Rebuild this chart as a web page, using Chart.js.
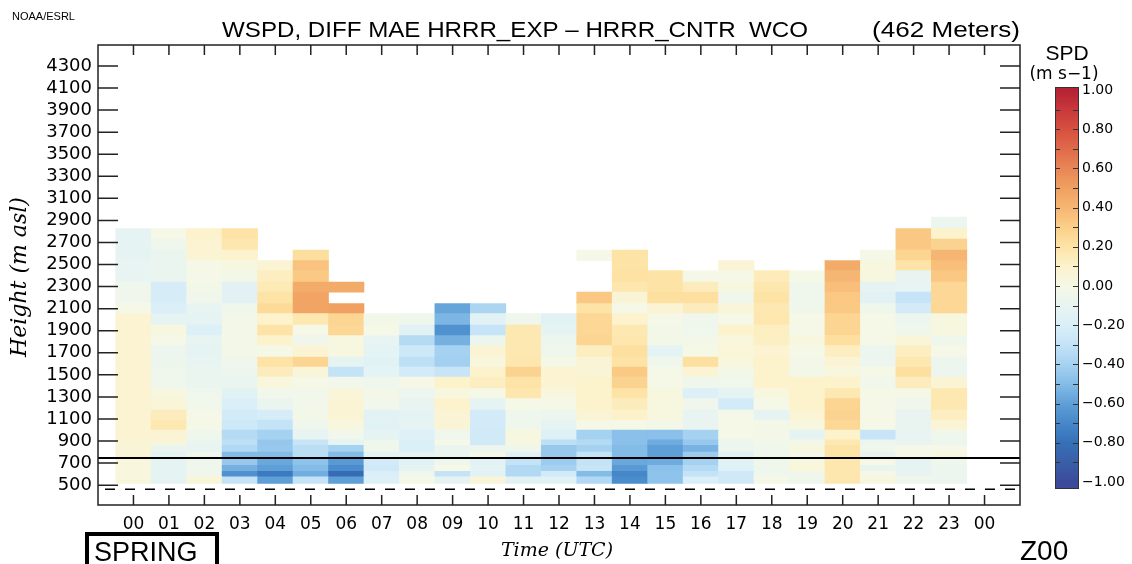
<!DOCTYPE html>
<html>
<head>
<meta charset="utf-8">
<title>WSPD DIFF MAE HRRR_EXP - HRRR_CNTR WCO</title>
<script src="https://cdn.jsdelivr.net/npm/chart.js@4.4.1/dist/chart.umd.min.js"></script>
<style>
  html, body { margin: 0; padding: 0; background: #fff; }
  #wrap { width: 1132px; height: 564px; }
</style>
</head>
<body>
<div id="wrap"><canvas id="chart" width="1132" height="564"></canvas></div>
<script>
// ---- data -------------------------------------------------------------------
// hours along the x axis (UTC)
const hours = ['00', '01', '02', '03', '04', '05', '06', '07', '08', '09', '10', '11',
               '12', '13', '14', '15', '16', '17', '18', '19', '20', '21', '22', '23'];

// height axis tick labels (m asl)
const yTicks = [500, 700, 900, 1100, 1300, 1500, 1700, 1900, 2100, 2300,
                2500, 2700, 2900, 3100, 3300, 3500, 3700, 3900, 4100, 4300];

// edges of the height bins (m asl), bottom to top
const levelEdges = [515, 575, 625, 680, 740, 800, 860, 910, 1000, 1090, 1180, 1285, 1375, 1480,
                    1570, 1660, 1765, 1855, 1950, 2055, 2145, 2250, 2340, 2445, 2535, 2630,
                    2730, 2825, 2930];

// MAE difference (m s-1) per hour, one value per height bin, bottom to top (null = no data)
const spdByHour = [
  /* 00 */ [0.04, 0.04, 0.04, 0.04, 0.06, 0.06, 0.06, 0.08, 0.08, 0.08, 0.08, 0.08, 0.08, 0.08, 0.08, 0.08, 0.08, 0.08, 0.08, 0.0, -0.04, -0.05, -0.1, -0.1, -0.12, -0.12, -0.12],
  /* 01 */ [-0.12, -0.12, -0.12, -0.12, -0.12, -0.08, 0.05, 0.07, 0.17, 0.14, 0.05, 0.03, -0.05, -0.05, -0.06, -0.07, 0.0, 0.03, -0.12, -0.2, -0.22, -0.22, -0.08, -0.08, -0.08, -0.05, 0.0],
  /* 02 */ [0.05, -0.04, -0.05, -0.05, -0.05, -0.1, -0.08, -0.05, 0.0, 0.0, -0.03, -0.05, -0.08, -0.08, -0.1, -0.12, -0.1, -0.18, -0.12, -0.1, -0.04, -0.02, 0.0, 0.0, 0.07, 0.08, 0.1],
  /* 03 */ [-0.3, -0.66, -0.54, -0.44, -0.5, -0.36, -0.32, -0.35, -0.26, -0.23, -0.2, -0.15, -0.08, -0.07, -0.05, -0.02, -0.02, -0.02, -0.02, -0.05, -0.14, -0.14, -0.02, 0.03, 0.09, 0.18, 0.2],
  /* 04 */ [-0.6, -0.76, -0.6, -0.57, -0.5, -0.44, -0.45, -0.4, -0.3, -0.22, -0.08, -0.03, 0.04, 0.14, 0.2, 0.0, 0.1, 0.2, 0.1, 0.25, 0.2, 0.16, 0.13, 0.07],
  /* 05 */ [-0.3, -0.55, -0.5, -0.47, -0.33, -0.33, -0.28, -0.1, -0.05, -0.02, -0.03, -0.03, 0.0, 0.05, 0.27, 0.07, -0.04, 0.0, 0.17, 0.48, 0.48, 0.45, 0.32, 0.35, 0.23],
  /* 06 */ [-0.6, -0.82, -0.68, -0.62, -0.5, -0.4, -0.12, -0.03, 0.04, 0.07, 0.07, 0.05, -0.03, -0.3, -0.12, 0.03, 0.03, 0.26, 0.27, 0.5, null, 0.45],
  /* 07 */ [-0.18, -0.2, -0.25, -0.23, -0.12, -0.05, -0.05, -0.12, -0.15, -0.14, -0.03, -0.02, -0.05, -0.13, -0.15, -0.13, -0.1, 0.0, -0.02],
  /* 08 */ [0.0, -0.05, -0.12, -0.14, -0.12, -0.2, -0.2, -0.17, -0.12, -0.13, -0.09, -0.07, 0.0, -0.23, -0.32, -0.26, -0.35, -0.14, -0.05],
  /* 09 */ [-0.12, -0.3, 0.0, -0.05, -0.08, -0.08, 0.0, -0.05, 0.06, 0.07, 0.1, 0.03, 0.1, -0.28, -0.41, -0.4, -0.54, -0.66, -0.52, -0.58],
  /* 10 */ [0.05, -0.14, -0.13, -0.14, 0.0, -0.07, -0.24, -0.24, -0.23, -0.23, -0.12, 0.0, 0.13, 0.1, 0.04, 0.07, -0.07, -0.29, -0.14, -0.38],
  /* 11 */ [-0.14, -0.36, -0.36, -0.3, -0.14, -0.05, 0.03, 0.03, -0.05, -0.05, 0.0, 0.18, 0.2, 0.28, 0.18, 0.17, 0.17, 0.17, -0.05],
  /* 12 */ [-0.15, -0.23, -0.4, -0.43, -0.44, -0.44, -0.32, -0.17, -0.12, -0.07, 0.0, 0.04, 0.08, 0.08, 0.0, -0.05, -0.07, -0.12, -0.14],
  /* 13 */ [-0.36, -0.5, -0.28, -0.3, -0.3, -0.4, -0.35, -0.4, 0.0, 0.07, 0.1, 0.1, 0.1, 0.06, 0.06, 0.13, 0.27, 0.26, 0.26, 0.2, 0.33, null, null, null, 0.0],
  /* 14 */ [-0.68, -0.7, -0.62, -0.57, -0.5, -0.5, -0.48, -0.48, 0.0, 0.11, 0.14, 0.2, 0.28, 0.32, 0.2, 0.22, 0.18, 0.17, 0.1, 0.0, 0.06, 0.18, 0.21, 0.2, 0.2],
  /* 15 */ [-0.47, -0.47, -0.48, -0.56, -0.6, -0.6, -0.56, -0.48, -0.02, 0.03, 0.03, 0.03, 0.0, 0.0, -0.05, -0.13, -0.02, -0.02, 0.0, 0.07, 0.22, 0.2, 0.2],
  /* 16 */ [-0.2, -0.3, -0.35, -0.4, -0.43, -0.53, -0.44, -0.4, -0.09, -0.1, -0.04, -0.18, -0.05, 0.07, 0.22, 0.0, -0.02, -0.05, -0.05, 0.14, 0.22, 0.14, 0.0],
  /* 17 */ [-0.25, -0.25, -0.17, -0.14, -0.14, -0.07, -0.07, 0.0, 0.0, 0.0, -0.23, -0.12, -0.05, -0.02, 0.04, 0.05, 0.04, 0.1, 0.0, 0.05, -0.05, 0.03, 0.0, 0.07],
  /* 18 */ [0.0, -0.05, -0.05, -0.05, -0.05, -0.05, -0.03, -0.02, -0.02, -0.12, 0.0, 0.03, 0.1, 0.1, 0.1, 0.08, 0.12, 0.13, 0.18, 0.17, 0.2, 0.18, 0.15],
  /* 19 */ [-0.05, -0.05, 0.05, 0.03, 0.0, 0.03, -0.02, -0.12, 0.03, 0.07, 0.1, 0.1, 0.1, -0.02, -0.02, 0.0, 0.03, 0.0, 0.0, -0.05, -0.05, -0.05, 0.0],
  /* 20 */ [0.18, 0.18, 0.18, 0.18, 0.2, 0.2, 0.17, 0.1, 0.26, 0.28, 0.27, 0.17, 0.1, 0.04, 0.07, 0.13, 0.22, 0.27, 0.27, 0.32, 0.33, 0.37, 0.4, 0.45],
  /* 21 */ [0.03, 0.0, -0.09, 0.0, -0.09, -0.05, -0.07, -0.28, 0.0, 0.0, 0.0, 0.0, -0.03, 0.0, -0.07, -0.07, 0.0, 0.0, 0.0, -0.05, -0.14, -0.12, 0.03, 0.03, 0.0],
  /* 22 */ [-0.05, -0.09, -0.12, -0.12, 0.0, 0.0, -0.09, -0.11, -0.09, -0.09, -0.04, 0.0, 0.14, 0.22, 0.17, 0.13, 0.05, -0.05, -0.07, -0.23, -0.29, -0.11, -0.09, 0.2, 0.27, 0.33, 0.33],
  /* 23 */ [-0.07, -0.07, -0.07, -0.05, 0.03, 0.0, -0.07, -0.05, 0.07, 0.13, 0.17, 0.17, 0.07, -0.07, -0.07, 0.0, -0.05, 0.03, 0.03, 0.26, 0.26, 0.26, 0.33, 0.37, 0.4, 0.28, 0.1, -0.07]
];

// station height and the reference level line (m asl)
const groundHeight = 462;
const refHeight = 745;

// colour bar tick labels (m s-1)
const cbTicks = [1.0, 0.8, 0.6, 0.4, 0.2, 0.0, -0.2, -0.4, -0.6, -0.8, -1.0];

// ---- colour scale -----------------------------------------------------------
const cmap = [
  [-1.0, '#3b4a9a'], [-0.9, '#3a5ea8'], [-0.8, '#3670b7'], [-0.7, '#4687c9'],
  [-0.6, '#5f9fd7'], [-0.5, '#84bce8'], [-0.4, '#a6d2f1'], [-0.3, '#c4e3f7'],
  [-0.2, '#daeff8'], [-0.1, '#e8f4f2'], [0.0, '#f5f8e6'], [0.1, '#fcf2cc'],
  [0.2, '#fde4a6'], [0.3, '#fbcf8a'], [0.4, '#f6b673'], [0.5, '#f0a060'],
  [0.6, '#e88656'], [0.7, '#e06a4a'], [0.8, '#d65040'], [0.9, '#c8383c'], [1.0, '#b52234']
];

function hexToRgb(h) {
  return [parseInt(h.slice(1, 3), 16), parseInt(h.slice(3, 5), 16), parseInt(h.slice(5, 7), 16)];
}

function spdColor(v) {
  v = Math.max(-1, Math.min(1, v));
  for (let i = 0; i < cmap.length - 1; i++) {
    const [v0, c0] = cmap[i];
    const [v1, c1] = cmap[i + 1];
    if (v <= v1) {
      const t = (v - v0) / (v1 - v0);
      const a = hexToRgb(c0), b = hexToRgb(c1);
      return 'rgb(' + a.map((x, k) => Math.round(x + (b[k] - x) * t)).join(',') + ')';
    }
  }
  return cmap[cmap.length - 1][1];
}

// ---- datasets ---------------------------------------------------------------
// x categories: one blank slot on each side, the 24 hours and the closing 00
const xLabels = [''].concat(hours, ['00', '']);

const datasets = [];
for (let r = 0; r < levelEdges.length - 1; r++) {
  const data = xLabels.map(() => null);
  const colors = xLabels.map(() => 'rgba(0,0,0,0)');
  spdByHour.forEach((col, h) => {
    const v = col[r];
    if (v === null || v === undefined) return;
    data[h + 1] = [levelEdges[r], levelEdges[r + 1]];
    colors[h + 1] = spdColor(v);
  });
  datasets.push({
    type: 'bar',
    data: data,
    backgroundColor: colors,
    borderWidth: 0,
    grouped: false,
    barPercentage: 1,
    categoryPercentage: 1,
    order: 2
  });
}

datasets.push({
  type: 'line',
  data: xLabels.map(() => refHeight),
  borderColor: '#000',
  borderWidth: 2,
  pointRadius: 0,
  order: 0
});
datasets.push({
  type: 'line',
  data: xLabels.map(() => groundHeight),
  borderColor: '#000',
  borderWidth: 1.5,
  borderDash: [10, 10],
  borderDashOffset: 13,
  pointRadius: 0,
  order: 0
});

// ---- plugins ----------------------------------------------------------------
// text stretched sideways to a given width (the original uses a wide stroke font)
function wideText(ctx, text, x, y, width) {
  const w = ctx.measureText(text).width;
  ctx.save();
  ctx.translate(x, y);
  ctx.scale(width / w, 1);
  ctx.fillText(text, 0, 0);
  ctx.restore();
}

// IDL style frame with inward tick marks
const idlAxes = {
  id: 'idlAxes',
  afterDatasetsDraw(chart) {
    const { ctx, chartArea: a, scales: { x, y } } = chart;
    ctx.save();
    ctx.strokeStyle = '#222';
    ctx.lineWidth = 1.5;
    ctx.beginPath();
    yTicks.forEach(v => {
      const py = y.getPixelForValue(v);
      ctx.moveTo(a.left, py); ctx.lineTo(a.left + 20, py);
      ctx.moveTo(a.right - 20, py); ctx.lineTo(a.right, py);
    });
    for (let i = 1; i <= hours.length + 1; i++) {
      const px = x.getPixelForValue(i);
      ctx.moveTo(px, a.bottom); ctx.lineTo(px, a.bottom - 10);
      ctx.moveTo(px, a.top); ctx.lineTo(px, a.top + 10);
    }
    ctx.stroke();
    ctx.strokeRect(a.left, a.top, a.right - a.left, a.bottom - a.top);
    ctx.restore();
  }
};

// titles, labels and the colour bar
const decor = {
  id: 'decor',
  afterDraw(chart) {
    const ctx = chart.ctx;
    ctx.save();
    ctx.fillStyle = '#000';
    ctx.textBaseline = 'alphabetic';
    ctx.textAlign = 'left';

    ctx.font = '11px "Liberation Sans"';
    ctx.fillText('NOAA/ESRL', 12, 20);

    ctx.font = '22px "Liberation Sans"';
    wideText(ctx, 'WSPD, DIFF MAE HRRR_EXP \u2013 HRRR_CNTR  WCO', 222, 37, 586);
    wideText(ctx, '(462 Meters)', 872, 37, 148);

    // axis titles
    ctx.textAlign = 'center';
    ctx.textBaseline = 'middle';
    ctx.font = 'italic 19px "DejaVu Serif"';
    ctx.fillText('Time (UTC)', 557, 551);
    ctx.save();
    ctx.translate(20, 277);
    ctx.rotate(-Math.PI / 2);
    ctx.font = 'italic 22px "DejaVu Serif"';
    ctx.fillText('Height (m asl)', 0, 0);
    ctx.restore();

    // season box and cycle
    ctx.textAlign = 'left';
    ctx.textBaseline = 'alphabetic';
    ctx.lineWidth = 4;
    ctx.strokeStyle = '#000';
    ctx.strokeRect(87, 534, 130, 40);
    ctx.font = '27px "Liberation Sans"';
    ctx.fillText('SPRING', 94, 561);
    ctx.font = '28px "Liberation Sans"';
    ctx.fillText('Z00', 1020, 560);

    // colour bar
    const bx = 1055, bw = 23, top = 87, bottom = 488;
    const yOf = v => 90 + (1 - v) * 196;
    for (let py = top; py < bottom; py++) {
      const v = 1 - (py + 0.5 - 90) / 196;
      ctx.fillStyle = spdColor(v);
      ctx.fillRect(bx, py, bw, 1);
    }
    ctx.strokeStyle = '#333';
    ctx.lineWidth = 1;
    ctx.strokeRect(bx + 0.5, top + 0.5, bw, bottom - top);
    ctx.beginPath();
    for (let k = -9; k <= 9; k++) {
      const py = Math.round(yOf(k / 10)) + 0.5;
      ctx.moveTo(bx, py); ctx.lineTo(bx + 5, py);
      ctx.moveTo(bx + bw - 5, py); ctx.lineTo(bx + bw, py);
    }
    ctx.stroke();

    ctx.fillStyle = '#000';
    ctx.font = '14px "DejaVu Sans"';
    ctx.textBaseline = 'middle';
    cbTicks.forEach(v => ctx.fillText(v.toFixed(2).replace('-', '\u2212'), 1082, yOf(v)));

    ctx.textAlign = 'center';
    ctx.textBaseline = 'alphabetic';
    ctx.font = '21px "Liberation Sans"';
    ctx.fillText('SPD', 1067, 60);
    ctx.font = '17px "DejaVu Sans"';
    ctx.fillText('(m s\u22121)', 1064, 79);
    ctx.restore();
  }
};

// ---- chart ------------------------------------------------------------------
new Chart(document.getElementById('chart'), {
  type: 'bar',
  data: { labels: xLabels, datasets: datasets },
  options: {
    responsive: false,
    animation: false,
    devicePixelRatio: 1,
    layout: { padding: { top: 45, right: 112, left: 0, bottom: 0 } },
    plugins: { legend: { display: false }, tooltip: { enabled: false } },
    scales: {
      x: {
        type: 'category',
        offset: false,
        grid: { display: false, drawTicks: false },
        border: { display: false },
        ticks: {
          autoSkip: false,
          maxRotation: 0,
          color: '#000',
          padding: 9,
          font: { family: 'DejaVu Sans', size: 17 }
        },
        afterFit: s => { s.height = 59; }
      },
      y: {
        type: 'linear',
        min: 320,
        max: 4490,
        afterBuildTicks: s => { s.ticks = yTicks.map(v => ({ value: v })); },
        grid: { display: false, drawTicks: false },
        border: { display: false },
        ticks: {
          autoSkip: false,
          color: '#000',
          padding: 6,
          font: { family: 'DejaVu Sans', size: 18, lineHeight: 1 },
          callback: v => String(v)
        },
        afterFit: s => { s.width = 98; }
      }
    }
  },
  plugins: [idlAxes, decor]
});
</script>
</body>
</html>
